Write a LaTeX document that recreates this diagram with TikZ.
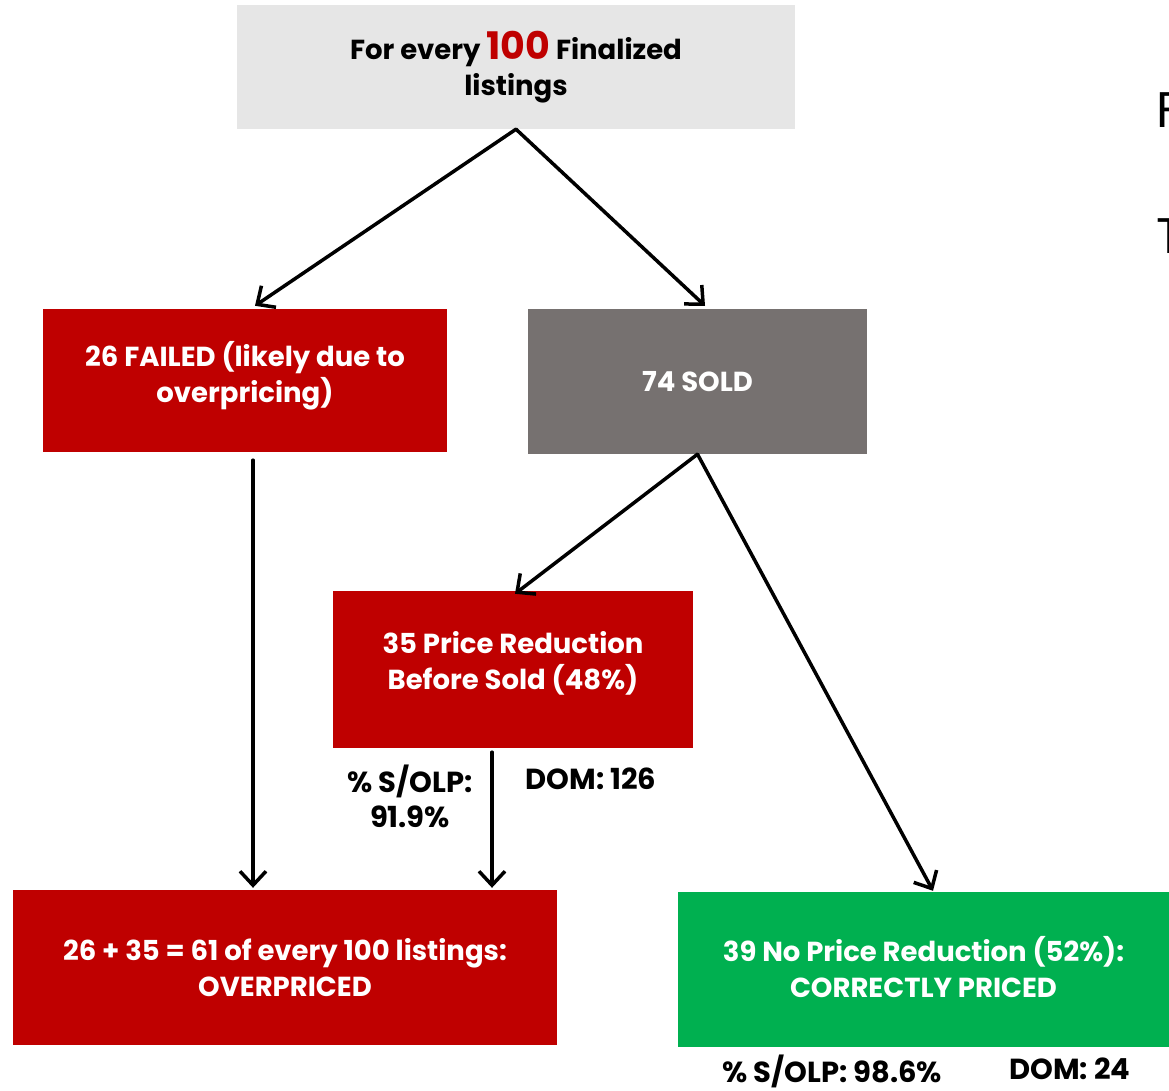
\documentclass[tikz,border=0pt]{standalone}
\usepackage{fontspec}
\setmainfont{Poppins}
\usetikzlibrary{arrows.meta}
\usetikzlibrary{positioning}
\usepackage{xcolor}

\newcommand{\lift}[1]{\rule[-#1]{0pt}{#1}}

\begin{document}
\begin{tikzpicture}[x=1pt,y=-1pt,line cap=round,line join=round,
  box/.style={inner sep=0pt,align=center,font=\bfseries\fontsize{27.5}{35.5}\selectfont},
  arr/.style={line width=3.5pt,-{Straight Barb[length=14pt,width=26pt,line width=3.5pt]}},
  note/.style={inner sep=0pt,align=center,font=\bfseries\fontsize{29}{35}\selectfont}]
\definecolor{rrffqq}{rgb}{0.75,0,0}
\definecolor{gggggg}{rgb}{0.902,0.902,0.902}
\definecolor{ttsstt}{rgb}{0.463,0.443,0.439}
\definecolor{qqbbss}{rgb}{0,0.69,0.314}
\useasboundingbox (0,0) rectangle (1169,1091);
\clip (0,0) rectangle (1169,1091);
% boxes
\node[box,fill=gggggg,minimum width=558pt,minimum height=124pt] (every) at (516,67)
  {For every \textcolor{rrffqq}{\fontsize{38}{38}\selectfont 100} Finalized\\listings};
\node[box,fill=rrffqq,text=white,minimum width=404pt,minimum height=143pt] (failed) at (245,380.5)
  {26 FAILED (likely due to\\overpricing)\lift{17pt}};
\node[box,fill=ttsstt,text=white,minimum width=339pt,minimum height=145pt] (sold) at (697.5,381.5)
  {74 SOLD};
\node[box,fill=rrffqq,text=white,minimum width=360pt,minimum height=157pt] (reduced) at (513,669.5)
  {35 Price Reduction\\Before Sold (48\%)\lift{18pt}};
\node[box,fill=rrffqq,text=white,minimum width=544pt,minimum height=155pt] (over) at (285,967.5)
  {26 + 35 = 61 of every 100 listings:\\OVERPRICED};
\node[box,fill=qqbbss,text=white,minimum width=491pt,minimum height=155pt] (correct) at (923.5,969.5)
  {39 No Price Reduction (52\%):\\CORRECTLY PRICED\lift{5pt}};
% notes
\node[note] (olpa) at (410,796) {\% S/OLP:\\91.9\%};
\node[note] (doma) at (591,779) {DOM: 126};
\node[note] (olpb) at (832,1071) {\% S/OLP: 98.6\%};
\node[note] (domb) at (1070,1069) {DOM: 24};
% cut off text on the right
\node[anchor=west,inner sep=0pt,font=\fontsize{50}{50}\selectfont] (fcut) at (1156,110) {F};
\node[anchor=west,inner sep=0pt,font=\fontsize{50}{50}\selectfont] (tcut) at (1156,236) {T};
% arrows
\draw[arr] (every.south) -- ([xshift=10pt,yshift=3pt]failed.north);
\draw[arr] (every.south) -- ([xshift=7.5pt,yshift=3pt]sold.north);
\draw[arr] ([xshift=8pt,yshift=-8pt]failed.south) -- ([xshift=-32pt,yshift=2pt]over.north);
\draw[arr] (sold.south) -- ([xshift=2pt,yshift=-3pt]reduced.north);
\draw[arr] (sold.south) -- ([xshift=9.5pt,yshift=1pt]correct.north);
\draw[arr] ([xshift=-21pt,yshift=-4pt]reduced.south) -- ([xshift=207pt,yshift=2pt]over.north);
\end{tikzpicture}
\end{document}
